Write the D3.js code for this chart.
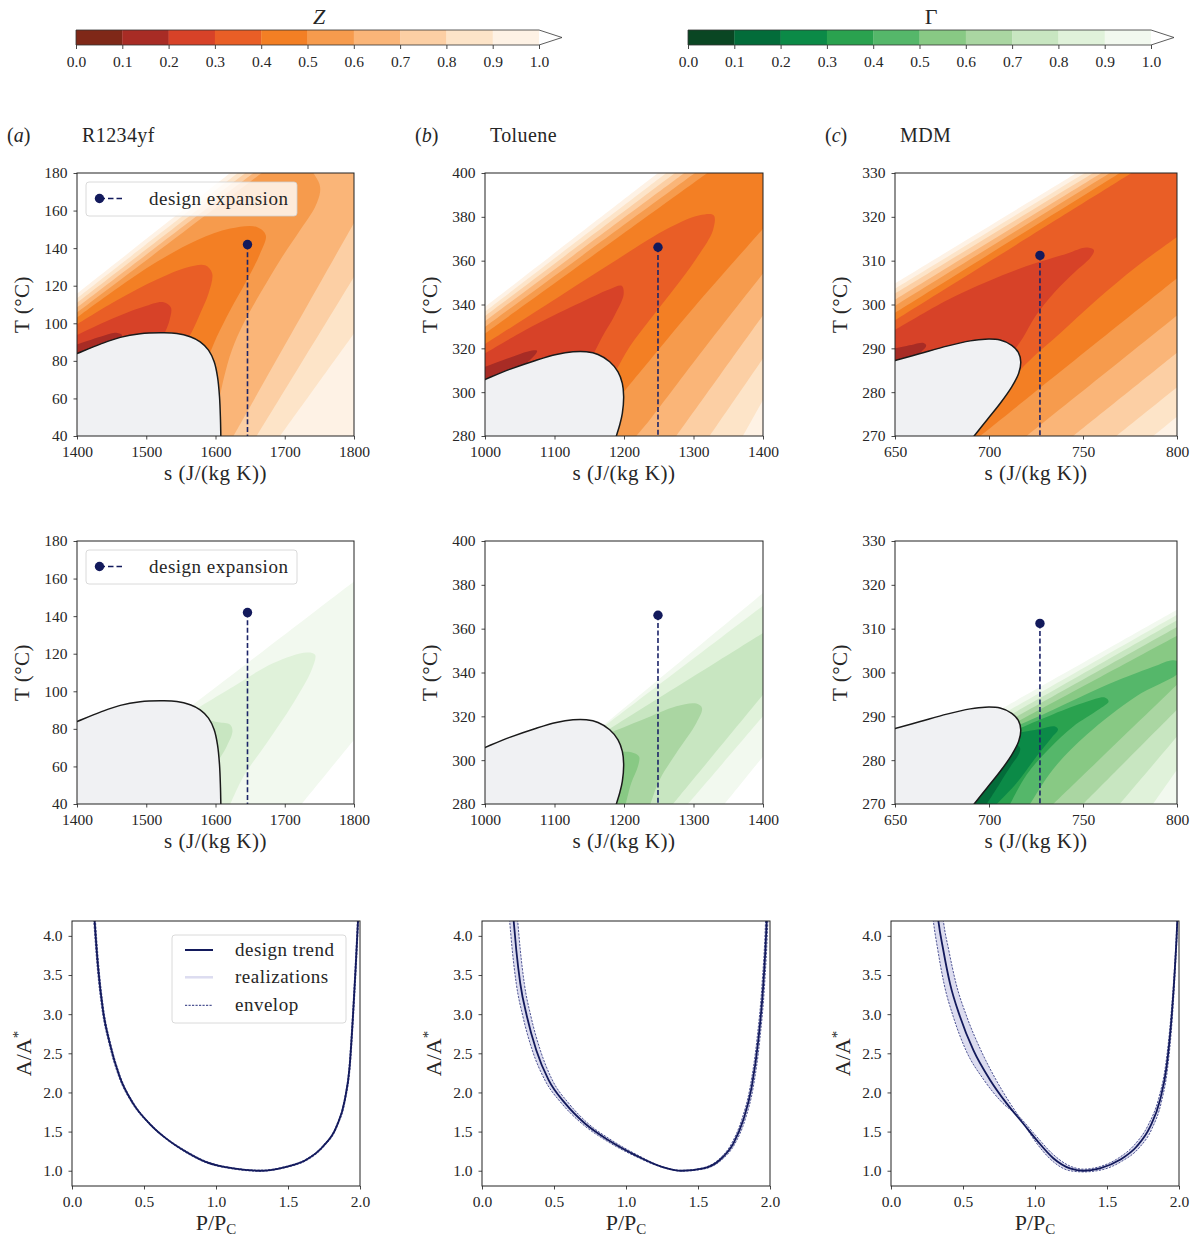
<!DOCTYPE html>
<html>
<head>
<meta charset="utf-8">
<script src="https://cdn.jsdelivr.net/npm/d3@7"></script>
<style>
  body { margin: 0; background: #fff; }
  svg text { font-family: "Liberation Serif", "Times New Roman", serif; fill: #262626; }
</style>
</head>
<body>
<svg id="fig" width="1199" height="1237"></svg>
<script>
// ---------- values ----------
const levels = [0.0, 0.1, 0.2, 0.3, 0.4, 0.5, 0.6, 0.7, 0.8, 0.9, 1.0];
const zColors = ["#7f2818", "#a82c25", "#d74228", "#e95e26", "#f37f24", "#f69b4d", "#fab578", "#fccfa4", "#fde4c8", "#fef2e5"];
const gColors = ["#0a4623", "#036c3a", "#0b8a47", "#2aa24f", "#55b76a", "#88c984", "#aad6a2", "#c8e6c1", "#e0f2da", "#f2f9ef"];

const fluids = ["R1234yf", "Toluene", "MDM"];
const tags = ["a", "b", "c"];
const sDomains = [[1400, 1800], [1000, 1400], [650, 800]];
const tDomains = [[40, 180], [280, 400], [270, 330]];
const sTicks = [[1400, 1500, 1600, 1700, 1800], [1000, 1100, 1200, 1300, 1400], [650, 700, 750, 800]];
const tTicks = [[40, 60, 80, 100, 120, 140, 160, 180], [280, 300, 320, 340, 360, 380, 400], [270, 280, 290, 300, 310, 320, 330]];
const designS = [1646.2, 1248.9, 727.1];
const designT = [141.9, 366.1, 311.2];

// saturation domes (s, T)
const domeR1234yf = [[1400, 83.9], [1433.7, 88.9], [1462.5, 92.5], [1491.3, 94.4], [1520.2, 94.9], [1544.2, 94.6], [1563.5, 92.8], [1577.9, 90.1], [1589.9, 85.7], [1598.1, 79.5], [1602.9, 71.5], [1605.8, 60.9], [1607.2, 48.5], [1607.7, 40]];
const domeToluene = [[1000, 305.8], [1035.5, 310.4], [1073.9, 314.6], [1102.6, 317.2], [1126.6, 318.4], [1145.8, 318.4], [1162.6, 317.2], [1179.4, 313.9], [1191.4, 309.3], [1197.6, 304.0], [1199.5, 297.9], [1197.6, 290.3], [1193.8, 285.0], [1189.0, 280.0]];
const domeMDM = [[650, 287.2], [663.4, 288.8], [677.6, 290.5], [690.0, 291.7], [697.9, 292.1], [705.9, 291.9], [712.1, 290.7], [715.6, 289.1], [716.9, 286.9], [715.8, 284.3], [712.1, 281.2], [705.9, 277.4], [698.8, 273.6], [692.1, 270]];

// filled contour regions (value < lev), iso-lines in (s, T); corner names close a region outside the axes
const zR1234yf = [
  {lev: 1.0, parts: [[[1400, 115.8], [1621.2, 180]], "TR", "BR", "BL"]},
  {lev: 0.9, parts: [[[1400, 113.3], [1632.2, 180]], "TR", [[1800, 94.6], [1693.3, 40]], "BL"]},
  {lev: 0.8, parts: [[[1400, 110.9], [1643.3, 180]], "TR", [[1800, 124.7], [1659.6, 40]], "BL"]},
  {lev: 0.7, parts: [[[1400, 108.4], [1654.8, 180]], "TR", [[1800, 153.4], [1626.0, 40]], "BL"]},
  {lev: 0.6, parts: [[[1400, 105.7], [1666.8, 180]], [[1739, 181.4], [1750, 174.3], [1751, 169.9], [1743.8, 161.9], [1722.1, 149.5], [1693.3, 133.6], [1664.4, 115.8], [1640.4, 99.9], [1623.6, 85.7], [1612.5, 71.5], [1604.3, 57.4]], "BL"]},
  {lev: 0.5, parts: [[[1400, 103.1], [1457.7, 118.5], [1515.4, 132.7], [1573.1, 144.2], [1621.2, 150.4], [1659.6, 151.3], [1672.6, 146.9], [1664.4, 137.1], [1645.2, 122.9], [1621.2, 107.0], [1601.9, 92.8], [1589.9, 82.2]], "BL"]},
  {lev: 0.4, parts: [[[1400, 99.5], [1457.7, 112.3], [1515.4, 123.3], [1558.7, 129.7], [1585.1, 130.9], [1595.2, 126.5], [1589.9, 115.8], [1577.9, 105.2], [1565.9, 95.5], [1556.3, 89.3]], "BL"]},
  {lev: 0.3, parts: [[[1400, 93.7], [1448.1, 102.0], [1496.2, 108.8], [1525.0, 111.2], [1535.6, 108.4], [1533.7, 101.7], [1527.4, 95.5], [1520.2, 91.0]], "BL"]},
  {lev: 0.2, parts: [[[1400, 88.7], [1433.7, 92.8], [1455.3, 94.9], [1464.9, 93.7], [1460.1, 91.0]], "BL"]}
];
const zToluene = [
  {lev: 1.0, parts: [[[1000, 338.9], [1248.9, 400]], "TR", "BR", "BL"]},
  {lev: 0.9, parts: [[[1000, 336.8], [1260.9, 400]], "TR", [[1400, 296.4], [1371.2, 280]], "BL"]},
  {lev: 0.8, parts: [[[1000, 334.7], [1273.4, 400]], "TR", [[1400, 315.4], [1323.3, 280]], "BL"]},
  {lev: 0.7, parts: [[[1000, 332.4], [1286.8, 400]], "TR", [[1400, 335.1], [1275.3, 280]], "BL"]},
  {lev: 0.6, parts: [[[1000, 329.8], [1302.1, 400]], "TR", [[1400, 354.1], [1313.7, 319.2], [1236.9, 287.3], [1217.7, 280]], "BL"]},
  {lev: 0.5, parts: [[[1000, 326.8], [1319.9, 400]], "TR", [[1400, 374.6], [1299.3, 338.2], [1227.3, 310.8], [1193.8, 297.9]], "BL"]},
  {lev: 0.4, parts: [[[1000, 321.9], [1083.4, 338.9], [1179.4, 358.4], [1265.7, 375.1], [1308.9, 380.7], [1329.0, 380.7], [1328.0, 373.9], [1304.1, 361.0], [1270.5, 346.5], [1236.9, 332.9], [1208.1, 320.7], [1186.6, 308.6]], "BL"]},
  {lev: 0.3, parts: [[[1000, 317.7], [1059.5, 328.6], [1131.4, 340.0], [1179.4, 347.0], [1196.6, 348.5], [1199.5, 344.7], [1186.6, 335.1], [1168.8, 325.3], [1153, 315.4]], "BL"]},
  {lev: 0.2, parts: [[[1000, 311.6], [1035.5, 315.7], [1061.9, 318.6], [1074.8, 318.9], [1072.9, 317.4], [1054.7, 311.6]], "BL"]}
];
const zMDM = [
  {lev: 1.0, parts: [[[650, 304.8], [746.6, 330]], "TR", "BR", "BL"]},
  {lev: 0.9, parts: [[[650, 303.6], [751.0, 330]], "TR", [[800, 274.4], [787.3, 270]], "BL"]},
  {lev: 0.8, parts: [[[650, 302.5], [755.4, 330]], "TR", [[800, 281.1], [767.8, 270]], "BL"]},
  {lev: 0.7, parts: [[[650, 301.1], [759.8, 330]], "TR", [[800, 289.0], [744.8, 270]], "BL"]},
  {lev: 0.6, parts: [[[650, 299.7], [764.3, 330]], "TR", [[800, 297.5], [720.0, 270]], "BL"]},
  {lev: 0.5, parts: [[[650, 298.1], [769.6, 330]], "TR", [[800, 306.0], [695.3, 270]], "BL"]},
  {lev: 0.4, parts: [[[650, 296.4], [775.8, 330]], "TR", [[800, 315.4], [778.4, 308.6], [757.2, 301.0], [737.7, 293.4], [723.6, 288.1], [713.0, 283.5]], "BL"]},
  {lev: 0.3, parts: [[[650, 294.2], [681.1, 301.7], [716.5, 308.2], [741.3, 311.6], [751.9, 313.0], [755.8, 312.4], [754.0, 310.7], [745.7, 307.4], [735.1, 302.9], [724.5, 297.2], [718.3, 292.6], [712.1, 288.8]], "BL"]},
  {lev: 0.2, parts: [[[650, 290.0], [659.9, 290.9], [665.2, 291.2], [666.6, 290.6], [659.9, 287.7]], "BL"]}
];

const gR1234yf = [
  {lev: 1.0, parts: [[[1549, 87.6], [1800, 158.5]], [[1800, 74.2], [1724.5, 40]], "BL"]},
  {lev: 0.9, parts: [[[1565.9, 89.3], [1626, 102.6], [1683.7, 115.1], [1731.7, 120.7], [1743.8, 119.5], [1738.9, 111.5], [1712.5, 93.8], [1674, 72.5], [1640.4, 54.7], [1621.2, 40]], "BL"]},
  {lev: 0.8, parts: [[[1587.5, 84.9], [1604.3, 83.5], [1621.2, 82.2], [1624.5, 78.7], [1616.3, 70.7], [1601.9, 61.8]], "BL"]}
];
const gToluene = [
  {lev: 1.0, parts: [[[1160.2, 313.2], [1400, 376.3]], [[1400, 301.7], [1344.8, 280]], "BL"]},
  {lev: 0.9, parts: [[[1165, 313.9], [1400, 370.5]], [[1400, 320], [1292.1, 280]], "BL"]},
  {lev: 0.8, parts: [[[1169.8, 312.4], [1400, 358]], [[1400, 329.9], [1270.5, 280]], "BL"]},
  {lev: 0.7, parts: [[[1179.4, 312.4], [1227.3, 318.5], [1275.3, 324.6], [1304.1, 325.8], [1312.2, 323.8], [1304.1, 317.0], [1275.3, 303.3], [1251.3, 291.1], [1237.9, 280]], "BL"]},
  {lev: 0.6, parts: [[[1193.8, 304.0], [1210.5, 303.6], [1221.6, 301.7], [1220.1, 297.2], [1210.5, 289.6], [1202.4, 280]], "BL"]}
];
const gMDM = [
  {lev: 1.0, parts: [[[704.1, 291.1], [800, 314.3]], "BR", "BL"]},
  {lev: 0.9, parts: [[[706.8, 290.4], [800, 313.2]], [[800, 277.8], [787.3, 270]], "BL"]},
  {lev: 0.8, parts: [[[709.4, 289.8], [800, 311.9]], [[800, 285.4], [769.6, 270]], "BL"]},
  {lev: 0.7, parts: [[[711.2, 289.1], [800, 310.4]], [[800, 291.5], [750.1, 270]], "BL"]},
  {lev: 0.6, parts: [[[713.0, 288.3], [800, 308.4]], [[800, 297.2], [734.2, 270]], "BL"]},
  {lev: 0.5, parts: [[[713.9, 287.6], [734.2, 291.5], [760.7, 296.8], [787.3, 301.3], [798.2, 302.8], [802.3, 301.8], [801.1, 300.0], [778.4, 294.6], [751.9, 285.8], [734.2, 278.0], [721.8, 270]], "BL"]},
  {lev: 0.4, parts: [[[714.7, 287.0], [734.2, 290.5], [751.9, 293.3], [761.6, 294.3], [763.6, 293.4], [758.1, 291.5], [744.8, 287.7], [732.4, 282.8], [720.0, 276.7], [711.2, 270]], "BL"]},
  {lev: 0.3, parts: [[[715.6, 286.2], [727.1, 287.1], [735.1, 287.7], [736.7, 287.0], [733.3, 285.1], [725.4, 280.9], [714.7, 274.8], [704.1, 270]], "BL"]},
  {lev: 0.2, parts: [[[713.9, 283.9], [716.5, 282.8], [716.0, 281.5], [712.1, 279.0], [705.9, 274.8], [698.8, 270]], "BL"]}
];

// nozzle area ratio A/A* against P/Pc
const prTicks = [0, 0.5, 1.0, 1.5, 2.0];
const arTicks = [1.0, 1.5, 2.0, 2.5, 3.0, 3.5, 4.0];
const trendR1234yf = [[0.153, 4.3], [0.157, 4.19], [0.181, 3.60], [0.215, 3.05], [0.262, 2.63], [0.331, 2.20], [0.424, 1.86], [0.539, 1.60], [0.655, 1.41], [0.794, 1.24], [0.933, 1.11], [1.118, 1.03], [1.303, 1.0], [1.488, 1.05], [1.627, 1.14], [1.743, 1.31], [1.836, 1.56], [1.894, 1.90], [1.928, 2.33], [1.951, 2.97], [1.970, 3.60], [1.986, 4.19], [1.989, 4.3]];
const envLoR1234yf = [[0.147, 4.3], [0.151, 4.19], [0.175, 3.60], [0.209, 3.05], [0.256, 2.63], [0.325, 2.20], [0.418, 1.86], [0.533, 1.60], [0.649, 1.41], [0.790, 1.233], [0.930, 1.103], [1.118, 1.023], [1.303, 0.993], [1.488, 1.043], [1.630, 1.133], [1.747, 1.305], [1.840, 1.56], [1.898, 1.90], [1.932, 2.33], [1.955, 2.97], [1.974, 3.60], [1.990, 4.19], [1.993, 4.3]];
const envHiR1234yf = [[0.159, 4.3], [0.163, 4.19], [0.187, 3.60], [0.221, 3.05], [0.268, 2.63], [0.337, 2.20], [0.430, 1.86], [0.545, 1.60], [0.661, 1.41], [0.798, 1.247], [0.936, 1.117], [1.118, 1.037], [1.303, 1.007], [1.488, 1.057], [1.624, 1.147], [1.739, 1.315], [1.832, 1.56], [1.890, 1.90], [1.924, 2.33], [1.947, 2.97], [1.966, 3.60], [1.982, 4.19], [1.985, 4.3]];
const trendToluene = [[0.215, 4.3], [0.220, 4.19], [0.238, 3.82], [0.266, 3.39], [0.312, 2.97], [0.377, 2.54], [0.462, 2.16], [0.578, 1.86], [0.717, 1.60], [0.879, 1.39], [1.064, 1.20], [1.249, 1.05], [1.387, 1.0], [1.538, 1.03], [1.653, 1.14], [1.746, 1.35], [1.815, 1.65], [1.873, 2.07], [1.919, 2.67], [1.954, 3.39], [1.977, 4.19], [1.979, 4.3]];
const envLoToluene = [[0.187, 4.3], [0.192, 4.19], [0.210, 3.82], [0.238, 3.39], [0.284, 2.97], [0.349, 2.54], [0.436, 2.16], [0.553, 1.86], [0.695, 1.60], [0.862, 1.385], [1.055, 1.193], [1.249, 1.045], [1.387, 0.995], [1.540, 1.022], [1.662, 1.135], [1.758, 1.35], [1.827, 1.65], [1.884, 2.07], [1.929, 2.67], [1.963, 3.39], [1.985, 4.19], [1.987, 4.3]];
const envHiToluene = [[0.243, 4.3], [0.248, 4.19], [0.266, 3.82], [0.294, 3.39], [0.340, 2.97], [0.405, 2.54], [0.488, 2.16], [0.603, 1.86], [0.739, 1.60], [0.896, 1.395], [1.073, 1.207], [1.249, 1.055], [1.387, 1.005], [1.536, 1.038], [1.644, 1.145], [1.734, 1.35], [1.803, 1.65], [1.862, 2.07], [1.909, 2.67], [1.945, 3.39], [1.969, 4.19], [1.971, 4.3]];
const trendMDM = [[0.322, 4.3], [0.329, 4.19], [0.363, 3.82], [0.41, 3.39], [0.479, 2.97], [0.572, 2.54], [0.688, 2.16], [0.803, 1.86], [0.919, 1.60], [1.012, 1.39], [1.127, 1.16], [1.243, 1.03], [1.336, 1.0], [1.451, 1.03], [1.590, 1.14], [1.706, 1.31], [1.799, 1.56], [1.868, 1.90], [1.914, 2.33], [1.949, 2.97], [1.972, 3.60], [1.988, 4.19], [1.990, 4.3]];
const envLoMDM = [[0.287, 4.3], [0.294, 4.19], [0.325, 3.82], [0.368, 3.39], [0.432, 2.97], [0.52, 2.54], [0.645, 2.16], [0.778, 1.86], [0.89, 1.69], [1.005, 1.45], [1.125, 1.21], [1.243, 1.06], [1.336, 1.02], [1.445, 1.05], [1.578, 1.16], [1.69, 1.33], [1.785, 1.58], [1.858, 1.92], [1.907, 2.35], [1.944, 2.98], [1.969, 3.61], [1.985, 4.19], [1.987, 4.3]];
const envHiMDM = [[0.357, 4.3], [0.364, 4.19], [0.401, 3.82], [0.452, 3.39], [0.526, 2.97], [0.624, 2.54], [0.73, 2.16], [0.828, 1.86], [0.89, 1.69], [1.02, 1.33], [1.13, 1.11], [1.243, 1.0], [1.336, 0.985], [1.46, 1.01], [1.602, 1.12], [1.722, 1.29], [1.813, 1.54], [1.878, 1.88], [1.921, 2.31], [1.954, 2.96], [1.975, 3.59], [1.991, 4.19], [1.993, 4.3]];

// ---------- layout ----------
const colX = [[77, 354], [485, 763], [895, 1177]];
const nozX = [[72, 360], [482, 770], [891, 1179]];
const rowY = [[173, 436], [541, 804], [921, 1186]];
const navy = "#131a5c";
const serif = '"Liberation Serif", "Times New Roman", serif';

const svg = d3.select("#fig");
const defs = svg.append("defs");
const smooth = d3.line().curve(d3.curveCatmullRom.alpha(0.5));

function extendEnds(pts, d) {
  const ext = (a, b) => {
    const dx = a[0] - b[0], dy = a[1] - b[1], l = Math.hypot(dx, dy) || 1;
    return [a[0] + dx / l * d, a[1] + dy / l * d];
  };
  const n = pts.length;
  return [ext(pts[0], pts[1]), ...pts, ext(pts[n - 1], pts[n - 2])];
}

function bandPath(parts, x, y) {
  const [xa, xb] = x.range(), [yb, ya] = y.range(), pad = 40;
  const corner = {TL: [xa - pad, ya - pad], TR: [xb + pad, ya - pad], BL: [xa - pad, yb + pad], BR: [xb + pad, yb + pad]};
  let d = "";
  parts.forEach(p => {
    if (typeof p === "string") {
      d += (d ? "L" : "M") + corner[p].join(",");
    } else {
      const s = smooth(extendEnds(p.map(q => [x(q[0]), y(q[1])]), 6));
      d += d ? "L" + s.slice(1) : s;
    }
  });
  return d + "Z";
}

function styleAxis(g) {
  g.attr("font-size", 15.5).attr("font-family", serif).attr("color", "#333");
  g.select(".domain").remove();
  g.selectAll(".tick line").attr("stroke-width", 0.9);
  g.selectAll(".tick text").attr("font-family", serif);
}

function clipFor(id, x0, y0, x1, y1) {
  defs.append("clipPath").attr("id", id).append("rect")
    .attr("x", x0).attr("y", y0).attr("width", x1 - x0).attr("height", y1 - y0);
  return svg.append("g").attr("clip-path", `url(#${id})`);
}

// ---------- colorbars ----------
function colorbar(x0, x1, colors, label, italic) {
  const x = d3.scaleLinear().domain([0, 1]).range([x0, x1]);
  const top = 30, bot = 45, tip = 23;
  svg.append("g").selectAll("rect").data(colors).join("rect")
    .attr("x", (d, i) => x(levels[i]))
    .attr("width", (d, i) => x(levels[i + 1]) - x(levels[i]) + 0.3)
    .attr("y", top).attr("height", bot - top)
    .attr("fill", d => d);
  svg.append("path").attr("d", `M${x1},${top}L${x1 + tip},${(top + bot) / 2}L${x1},${bot}Z`).attr("fill", "#fff");
  svg.append("path")
    .attr("d", `M${x0},${top}L${x1},${top}L${x1 + tip},${(top + bot) / 2}L${x1},${bot}L${x0},${bot}Z`)
    .attr("fill", "none").attr("stroke", "#333").attr("stroke-width", 0.8);
  svg.append("g").attr("transform", `translate(0,${bot})`)
    .call(d3.axisBottom(x).tickValues(levels).tickFormat(d3.format(".1f")).tickSize(4).tickPadding(7))
    .call(styleAxis);
  svg.append("text").attr("x", (x0 + x1 + tip) / 2).attr("y", 24).attr("text-anchor", "middle")
    .attr("font-size", 22).attr("font-style", italic ? "italic" : null).text(label);
}
colorbar(76, 539, zColors, "Z", true);
colorbar(688, 1151, gColors, "Γ", false);

// ---------- T-s contour panels ----------
const domes = [domeR1234yf, domeToluene, domeMDM];
const zBands = [zR1234yf, zToluene, zMDM];
const gBands = [gR1234yf, gToluene, gMDM];

function expansionLegend(x0, y0) {
  svg.append("rect").attr("x", x0 + 9).attr("y", y0 + 9).attr("width", 211).attr("height", 34).attr("rx", 3)
    .attr("fill", "#fff").attr("fill-opacity", 0.8).attr("stroke", "#d0d0d0").attr("stroke-width", 0.8);
  svg.append("line").attr("x1", x0 + 22.5).attr("x2", x0 + 48).attr("y1", y0 + 25.5).attr("y2", y0 + 25.5)
    .attr("stroke", navy).attr("stroke-width", 1.6).attr("stroke-dasharray", "5.5,3");
  svg.append("circle").attr("cx", x0 + 22.5).attr("cy", y0 + 25.5).attr("r", 4.7).attr("fill", navy);
  svg.append("text").attr("x", x0 + 72).attr("y", y0 + 31.5).attr("font-size", 19)
    .attr("letter-spacing", 0.5).text("design expansion");
}

function contourPanel(col, row, bands, colors) {
  const [x0, x1] = colX[col], [y0, y1] = rowY[row];
  const x = d3.scaleLinear().domain(sDomains[col]).range([x0, x1]);
  const y = d3.scaleLinear().domain(tDomains[col]).range([y1, y0]);
  const g = clipFor(`clip-${row}-${col}`, x0, y0, x1, y1);

  bands.forEach(b => {
    g.append("path").attr("d", bandPath(b.parts, x, y)).attr("fill", colors[Math.round(b.lev * 10) - 1]);
  });

  const dome = domes[col];
  g.append("path").attr("d", bandPath([dome, "BL"], x, y)).attr("fill", "#f0f1f3");
  g.append("path").attr("d", smooth(extendEnds(dome.map(q => [x(q[0]), y(q[1])]), 6)))
    .attr("fill", "none").attr("stroke", "#1a1a1a").attr("stroke-width", 1.5);

  g.append("line")
    .attr("x1", x(designS[col])).attr("x2", x(designS[col]))
    .attr("y1", y(designT[col])).attr("y2", y1)
    .attr("stroke", "#1c2468").attr("stroke-width", 1.6).attr("stroke-dasharray", "5,2.6");
  g.append("circle").attr("cx", x(designS[col])).attr("cy", y(designT[col])).attr("r", 4.7).attr("fill", navy);

  svg.append("g").attr("transform", `translate(0,${y1})`)
    .call(d3.axisBottom(x).tickValues(sTicks[col]).tickFormat(d3.format("d")).tickSize(3.5).tickPadding(6))
    .call(styleAxis);
  svg.append("g").attr("transform", `translate(${x0},0)`)
    .call(d3.axisLeft(y).tickValues(tTicks[col]).tickFormat(d3.format("d")).tickSize(3.5).tickPadding(6))
    .call(styleAxis);
  svg.append("rect").attr("x", x0).attr("y", y0).attr("width", x1 - x0).attr("height", y1 - y0)
    .attr("fill", "none").attr("stroke", "#222").attr("stroke-width", 1);

  svg.append("text").attr("x", (x0 + x1) / 2).attr("y", y1 + 44).attr("text-anchor", "middle")
    .attr("font-size", 21).attr("letter-spacing", 0.5).text("s (J/(kg K))");
  svg.append("text").attr("transform", `translate(${x0 - 48},${(y0 + y1) / 2}) rotate(-90)`)
    .attr("text-anchor", "middle").attr("font-size", 21).attr("letter-spacing", 0.5).text("T (°C)");

  if (col === 0) expansionLegend(x0, y0);
  if (row === 0) {
    const tag = svg.append("text").attr("x", x0 - 70).attr("y", 142).attr("font-size", 20);
    tag.append("tspan").text("(");
    tag.append("tspan").attr("font-style", "italic").text(tags[col]);
    tag.append("tspan").text(")");
    svg.append("text").attr("x", x0 + 5).attr("y", 142).attr("font-size", 20).attr("letter-spacing", 0.4).text(fluids[col]);
  }
}

for (let c = 0; c < 3; c++) {
  contourPanel(c, 0, zBands[c], zColors);
  contourPanel(c, 1, gBands[c], gColors);
}

// ---------- nozzle profiles ----------
function nozzleLegend(x0, y0) {
  svg.append("rect").attr("x", x0 + 100).attr("y", y0 + 14).attr("width", 174).attr("height", 88).attr("rx", 3)
    .attr("fill", "#fff").attr("fill-opacity", 0.8).attr("stroke", "#d0d0d0").attr("stroke-width", 0.8);
  const rows = [
    {label: "design trend", stroke: navy, w: 2, dash: null, dy: 29},
    {label: "realizations", stroke: "#dcdcf0", w: 2.5, dash: null, dy: 56.3},
    {label: "envelop", stroke: "#262d7a", w: 1, dash: "2.2,1.3", dy: 84.3}
  ];
  rows.forEach(r => {
    svg.append("line").attr("x1", x0 + 113).attr("x2", x0 + 141).attr("y1", y0 + r.dy).attr("y2", y0 + r.dy)
      .attr("stroke", r.stroke).attr("stroke-width", r.w).attr("stroke-dasharray", r.dash);
    svg.append("text").attr("x", x0 + 163).attr("y", y0 + r.dy + 6).attr("font-size", 19)
      .attr("letter-spacing", 0.5).text(r.label);
  });
}

function nozzlePanel(col, trend, envA, envB) {
  const [x0, x1] = nozX[col], [y0, y1] = rowY[2];
  const x = d3.scaleLinear().domain([0, 2]).range([x0, x1]);
  const y = d3.scaleLinear().domain([0.805, 4.19]).range([y1, y0]);
  const g = clipFor(`clip-2-${col}`, x0, y0, x1, y1);
  const line = d3.line().x(d => x(d[0])).y(d => y(d[1])).curve(d3.curveMonotoneX);

  g.append("path").attr("d", line(envA) + "L" + line(envB.slice().reverse()).slice(1) + "Z")
    .attr("fill", "#dcdcef");
  [envA, envB].forEach(e => {
    g.append("path").attr("d", line(e)).attr("fill", "none")
      .attr("stroke", "#262d7a").attr("stroke-width", 0.8).attr("stroke-dasharray", "2.2,1.3");
  });
  g.append("path").attr("d", line(trend)).attr("fill", "none").attr("stroke", navy).attr("stroke-width", 1.8);

  svg.append("g").attr("transform", `translate(0,${y1})`)
    .call(d3.axisBottom(x).tickValues(prTicks).tickFormat(d3.format(".1f")).tickSize(3.5).tickPadding(6))
    .call(styleAxis);
  svg.append("g").attr("transform", `translate(${x0},0)`)
    .call(d3.axisLeft(y).tickValues(arTicks).tickFormat(d3.format(".1f")).tickSize(3.5).tickPadding(6))
    .call(styleAxis);
  svg.append("rect").attr("x", x0).attr("y", y0).attr("width", x1 - x0).attr("height", y1 - y0)
    .attr("fill", "none").attr("stroke", "#222").attr("stroke-width", 1);

  const xl = svg.append("text").attr("x", (x0 + x1) / 2).attr("y", y1 + 44).attr("text-anchor", "middle").attr("font-size", 22);
  xl.append("tspan").text("P/P");
  xl.append("tspan").attr("font-size", 15).attr("dy", 4).text("C");
  const yl = svg.append("text").attr("transform", `translate(${x0 - 41},${(y0 + y1) / 2}) rotate(-90)`)
    .attr("text-anchor", "middle").attr("font-size", 22);
  yl.append("tspan").text("A/A");
  yl.append("tspan").attr("font-size", 15).attr("dy", -8).text("*");

  if (col === 0) nozzleLegend(x0, y0);
}

nozzlePanel(0, trendR1234yf, envLoR1234yf, envHiR1234yf);
nozzlePanel(1, trendToluene, envLoToluene, envHiToluene);
nozzlePanel(2, trendMDM, envLoMDM, envHiMDM);
</script>
</body>
</html>
